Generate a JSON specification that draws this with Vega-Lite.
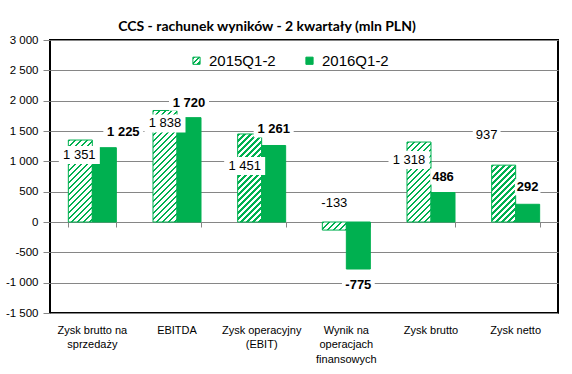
{
  "$schema": "https://vega.github.io/schema/vega-lite/v6.json",
  "width": 508,
  "height": 273,
  "autosize": {"type": "none"},
  "padding": {"left": 50, "top": 40, "right": 14, "bottom": 61},
  "background": "white",
  "params": [
    {"name": "cats", "value": ["Zysk brutto na sprzedaży", "EBITDA", "Zysk operacyjny (EBIT)", "Wynik na operacjach finansowych", "Zysk brutto", "Zysk netto"]},
    {"name": "legendHatch", "value": {"gradient": "linear", "x1": 0, "y1": 0, "x2": 1, "y2": 1, "stops": [
      {"offset":0,"color":"#00b050"},{"offset":0.15,"color":"#00b050"},{"offset":0.15,"color":"#fff"},{"offset":0.375,"color":"#fff"},
      {"offset":0.375,"color":"#00b050"},{"offset":0.525,"color":"#00b050"},{"offset":0.525,"color":"#fff"},{"offset":0.75,"color":"#fff"},
      {"offset":0.75,"color":"#00b050"},{"offset":0.9,"color":"#00b050"},{"offset":0.9,"color":"#fff"},{"offset":1,"color":"#fff"}
    ]}},
    {"name": "hatch", "value": [
      {"offset":0,"color":"#00b050"},{"offset":0.016,"color":"#00b050"},{"offset":0.016,"color":"#fff"},{"offset":0.04,"color":"#fff"},
      {"offset":0.04,"color":"#00b050"},{"offset":0.056,"color":"#00b050"},{"offset":0.056,"color":"#fff"},{"offset":0.08,"color":"#fff"},
      {"offset":0.08,"color":"#00b050"},{"offset":0.096,"color":"#00b050"},{"offset":0.096,"color":"#fff"},{"offset":0.12,"color":"#fff"},
      {"offset":0.12,"color":"#00b050"},{"offset":0.136,"color":"#00b050"},{"offset":0.136,"color":"#fff"},{"offset":0.16,"color":"#fff"},
      {"offset":0.16,"color":"#00b050"},{"offset":0.176,"color":"#00b050"},{"offset":0.176,"color":"#fff"},{"offset":0.2,"color":"#fff"},
      {"offset":0.2,"color":"#00b050"},{"offset":0.216,"color":"#00b050"},{"offset":0.216,"color":"#fff"},{"offset":0.24,"color":"#fff"},
      {"offset":0.24,"color":"#00b050"},{"offset":0.256,"color":"#00b050"},{"offset":0.256,"color":"#fff"},{"offset":0.28,"color":"#fff"},
      {"offset":0.28,"color":"#00b050"},{"offset":0.296,"color":"#00b050"},{"offset":0.296,"color":"#fff"},{"offset":0.32,"color":"#fff"},
      {"offset":0.32,"color":"#00b050"},{"offset":0.336,"color":"#00b050"},{"offset":0.336,"color":"#fff"},{"offset":0.36,"color":"#fff"},
      {"offset":0.36,"color":"#00b050"},{"offset":0.376,"color":"#00b050"},{"offset":0.376,"color":"#fff"},{"offset":0.4,"color":"#fff"},
      {"offset":0.4,"color":"#00b050"},{"offset":0.416,"color":"#00b050"},{"offset":0.416,"color":"#fff"},{"offset":0.44,"color":"#fff"},
      {"offset":0.44,"color":"#00b050"},{"offset":0.456,"color":"#00b050"},{"offset":0.456,"color":"#fff"},{"offset":0.48,"color":"#fff"},
      {"offset":0.48,"color":"#00b050"},{"offset":0.496,"color":"#00b050"},{"offset":0.496,"color":"#fff"},{"offset":0.52,"color":"#fff"},
      {"offset":0.52,"color":"#00b050"},{"offset":0.536,"color":"#00b050"},{"offset":0.536,"color":"#fff"},{"offset":0.56,"color":"#fff"},
      {"offset":0.56,"color":"#00b050"},{"offset":0.576,"color":"#00b050"},{"offset":0.576,"color":"#fff"},{"offset":0.6,"color":"#fff"},
      {"offset":0.6,"color":"#00b050"},{"offset":0.616,"color":"#00b050"},{"offset":0.616,"color":"#fff"},{"offset":0.64,"color":"#fff"},
      {"offset":0.64,"color":"#00b050"},{"offset":0.656,"color":"#00b050"},{"offset":0.656,"color":"#fff"},{"offset":0.68,"color":"#fff"},
      {"offset":0.68,"color":"#00b050"},{"offset":0.696,"color":"#00b050"},{"offset":0.696,"color":"#fff"},{"offset":0.72,"color":"#fff"},
      {"offset":0.72,"color":"#00b050"},{"offset":0.736,"color":"#00b050"},{"offset":0.736,"color":"#fff"},{"offset":0.76,"color":"#fff"},
      {"offset":0.76,"color":"#00b050"},{"offset":0.776,"color":"#00b050"},{"offset":0.776,"color":"#fff"},{"offset":0.8,"color":"#fff"},
      {"offset":0.8,"color":"#00b050"},{"offset":0.816,"color":"#00b050"},{"offset":0.816,"color":"#fff"},{"offset":0.84,"color":"#fff"},
      {"offset":0.84,"color":"#00b050"},{"offset":0.856,"color":"#00b050"},{"offset":0.856,"color":"#fff"},{"offset":0.88,"color":"#fff"},
      {"offset":0.88,"color":"#00b050"},{"offset":0.896,"color":"#00b050"},{"offset":0.896,"color":"#fff"},{"offset":0.92,"color":"#fff"},
      {"offset":0.92,"color":"#00b050"},{"offset":0.936,"color":"#00b050"},{"offset":0.936,"color":"#fff"},{"offset":0.96,"color":"#fff"},
      {"offset":0.96,"color":"#00b050"},{"offset":0.976,"color":"#00b050"},{"offset":0.976,"color":"#fff"},{"offset":1,"color":"#fff"}
    ]}
  ],
  "title": {
    "text": "CCS - rachunek wyników - 2 kwartały (mln PLN)",
    "font": "Lato",
    "fontSize": 14,
    "fontWeight": "bold",
    "color": "black",
    "anchor": "middle",
    "dx": -37,
    "offset": 0
  },
  "data": {
    "values": [
      {"cat": "Zysk brutto na sprzedaży", "year": "2015Q1-2", "value": 1351},
      {"cat": "Zysk brutto na sprzedaży", "year": "2016Q1-2", "value": 1225},
      {"cat": "EBITDA", "year": "2015Q1-2", "value": 1838},
      {"cat": "EBITDA", "year": "2016Q1-2", "value": 1720},
      {"cat": "Zysk operacyjny (EBIT)", "year": "2015Q1-2", "value": 1451},
      {"cat": "Zysk operacyjny (EBIT)", "year": "2016Q1-2", "value": 1261},
      {"cat": "Wynik na operacjach finansowych", "year": "2015Q1-2", "value": -133},
      {"cat": "Wynik na operacjach finansowych", "year": "2016Q1-2", "value": -775},
      {"cat": "Zysk brutto", "year": "2015Q1-2", "value": 1318},
      {"cat": "Zysk brutto", "year": "2016Q1-2", "value": 486},
      {"cat": "Zysk netto", "year": "2015Q1-2", "value": 937},
      {"cat": "Zysk netto", "year": "2016Q1-2", "value": 292}
    ]
  },
  "encoding": {
    "xOffset": {"field": "year", "type": "nominal", "scale": {"paddingInner": 0, "paddingOuter": 0}},
    "y": {
      "field": "value",
      "type": "quantitative",
      "scale": {"domain": [-1500, 3000], "nice": false, "zero": false},
      "axis": {
        "title": null,
        "values": [-1500, -1000, -500, 0, 500, 1000, 1500, 2000, 2500, 3000],
        "format": ",d",
        "domain": false,
        "grid": true,
        "gridColor": "#868686",
        "gridWidth": 1,
        "tickColor": "#868686",
        "tickSize": 7,
        "labelPadding": 5,
        "labelFlush": false,
        "labelFont": "Liberation Sans",
        "labelFontSize": 11.5,
        "labelColor": "black"
      }
    }
  },
  "resolve": {"axis": {"x": "independent"}},
  "layer": [
    {
      "mark": {"type": "bar", "stroke": "#00b050", "strokeWidth": 1},
      "encoding": {
        "x": {
          "field": "cat",
          "type": "nominal",
          "sort": null,
          "scale": {"paddingInner": 0.433, "paddingOuter": 0.2165},
          "axis": {
            "title": null,
            "domain": false,
            "ticks": false,
            "labelAngle": 0,
            "labelFont": "Liberation Sans",
            "labelFontSize": 11,
            "labelColor": "black",
            "labelPadding": 11,
            "labelLineHeight": 14.5,
            "labelLimit": 300,
            "labelExpr": "datum.value === 'Zysk brutto na sprzedaży' ? ['Zysk brutto na', 'sprzedaży'] : datum.value === 'Zysk operacyjny (EBIT)' ? ['Zysk operacyjny', '(EBIT)'] : datum.value === 'Wynik na operacjach finansowych' ? ['Wynik na', 'operacjach', 'finansowych'] : datum.value"
          }
        },
        "fill": {
          "field": "year",
          "type": "nominal",
          "scale": {"domain": ["2015Q1-2", "2016Q1-2"], "range": [{"expr": "legendHatch"}, "#00b050"]},
          "condition": {
            "test": "datum.year === '2015Q1-2'",
            "value": {"expr": "{gradient: 'linear', x1: 0, y1: 0, x2: 150 * bandwidth('xOffset') / (pow(bandwidth('xOffset'), 2) + pow(scale('y', datum.value) - scale('y', 0), 2)), y2: 150 * abs(scale('y', datum.value) - scale('y', 0)) / (pow(bandwidth('xOffset'), 2) + pow(scale('y', datum.value) - scale('y', 0), 2)), stops: hatch}"}
          },
          "legend": {
            "orient": "none",
            "legendX": 139,
            "legendY": 13,
            "direction": "horizontal",
            "title": null,
            "symbolType": "square",
            "symbolSize": 52,
            "symbolStrokeColor": "#00b050",
            "symbolStrokeWidth": 1,
            "symbolOpacity": 1,
            "labelFont": "Liberation Sans",
            "labelFontSize": 15,
            "labelColor": "black",
            "labelOffset": 5,
            "columnPadding": 26
          }
        }
      }
    },
    {
      "transform": [{"filter": "datum.year === '2015Q1-2'"}],
      "mark": {
        "type": "point",
        "filled": true,
        "fill": "white",
        "opacity": 1,
        "strokeWidth": 0,
        "size": 4,
        "shape": {"expr": "'M' + ([-1,0,-5,0,-10,-17][indexof(cats, datum.cat)] - (length(format(datum.value, ',d')) * 3.3 + 4)) + ',' + ([15,13,32,-27,18,-30][indexof(cats, datum.cat)] - 9) + 'h' + (2 * (length(format(datum.value, ',d')) * 3.3 + 4)) + 'v18h' + (-2 * (length(format(datum.value, ',d')) * 3.3 + 4)) + 'z'"}
      },
      "encoding": {
        "x": {"field": "cat", "type": "nominal", "sort": null, "axis": null}
      }
    },
    {
      "transform": [{"filter": "datum.year === '2015Q1-2'"}],
      "mark": {
        "type": "text",
        "font": "Liberation Sans",
        "fontSize": 13,
        "color": "black",
        "baseline": "middle",
        "dx": {"expr": "[-1,0,-5,0,-10,-17][indexof(cats, datum.cat)]"},
        "dy": {"expr": "[15,13,32,-27,18,-30][indexof(cats, datum.cat)]"}
      },
      "encoding": {
        "x": {"field": "cat", "type": "nominal", "sort": null, "axis": null},
        "text": {"field": "value", "type": "quantitative", "format": ",d"}
      }
    },
    {
      "transform": [{"filter": "datum.year === '2016Q1-2'"}],
      "mark": {
        "type": "point",
        "filled": true,
        "fill": "white",
        "opacity": 1,
        "strokeWidth": 0,
        "size": 4,
        "shape": {"expr": "'M' + ([19,0,0,0,0,0][indexof(cats, datum.cat)] - (length(format(datum.value, ',d')) * 3.6 + 2)) + ',' + ([-16,-15,-16,16,-16,-17][indexof(cats, datum.cat)] - 8) + 'h' + (2 * (length(format(datum.value, ',d')) * 3.6 + 2)) + 'v16h' + (-2 * (length(format(datum.value, ',d')) * 3.6 + 2)) + 'z'"}
      },
      "encoding": {
        "x": {"field": "cat", "type": "nominal", "sort": null, "axis": null}
      }
    },
    {
      "transform": [{"filter": "datum.year === '2016Q1-2'"}],
      "mark": {
        "type": "text",
        "font": "Liberation Sans",
        "fontSize": 13,
        "fontWeight": "bold",
        "color": "black",
        "baseline": "middle",
        "dx": {"expr": "[19,0,0,0,0,0][indexof(cats, datum.cat)]"},
        "dy": {"expr": "[-16,-15,-16,16,-16,-17][indexof(cats, datum.cat)]"}
      },
      "encoding": {
        "x": {
          "field": "cat",
          "type": "nominal",
          "sort": null,
          "axis": {
            "orient": "bottom",
            "offset": -91,
            "title": null,
            "labels": false,
            "domain": false,
            "grid": false,
            "ticks": true,
            "tickBand": "extent",
            "tickSize": 5,
            "tickColor": "#868686",
            "tickWidth": 1
          }
        },
        "text": {"field": "value", "type": "quantitative", "format": ",d"}
      }
    }
  ],
  "config": {
    "view": {"stroke": "black", "strokeWidth": 2},
    "locale": {
      "number": {"decimal": ",", "thousands": " ", "grouping": [3], "currency": ["", " zł"], "minus": "-"}
    }
  }
}
